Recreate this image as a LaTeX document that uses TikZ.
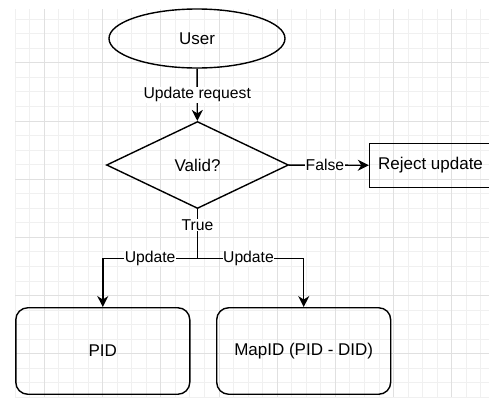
\documentclass[tikz,border=0pt]{standalone}
\usepackage{fontspec}
\setmainfont{Liberation Sans}
\usepackage{tikz}
\usetikzlibrary{shapes,shapes.geometric,arrows.meta,positioning,calc}

\begin{document}
\begin{tikzpicture}[x=1pt,y=-1pt,
    minorline/.style={draw=black!6, line width=0.8pt},
    majorline/.style={draw=black!12, line width=0.8pt},
    shapetext/.style={font=\fontsize{17}{20}\selectfont, draw, line width=1.4pt, inner sep=0pt},
    startnode/.style={shapetext, ellipse, minimum width=176pt, minimum height=59pt},
    decision/.style={shapetext, diamond, minimum width=182pt, minimum height=87pt},
    plainbox/.style={shapetext, rectangle, minimum width=122pt, minimum height=44pt},
    roundbox/.style={shapetext, rectangle, rounded corners=12pt, minimum width=174pt, minimum height=86.5pt},
    flow/.style={line width=1.4pt, -{Stealth[length=11pt,width=11pt,inset=3.5pt]}},
    edgelabel/.style={fill=white, inner sep=0.5pt, font=\fontsize{15.7}{18}\selectfont}]
    \useasboundingbox (0,0) rectangle (489,397);

    % Grid
    \begin{scope}
        \clip (15,9) rectangle (489,397);
        \foreach \k in {0,...,32} \draw[minorline] ({15.2+14.55*\k},9) -- ++(0,388);
        \foreach \k in {0,...,27} \draw[minorline] (15,{4.5+14.55*\k}) -- ++(474,0);
        \foreach \k in {0,...,7} \draw[majorline] ({44.3+58.2*\k},9) -- ++(0,388);
        \foreach \k in {0,...,5} \draw[majorline] (15,{62.7+58.2*\k}) -- ++(474,0);
    \end{scope}

    % Nodes
    \node[startnode] (user) at (197,38.5) {User};
    \node[decision] (valid) at (197.5,165) {Valid?};
    \node[plainbox] (reject) at (430.5,165.3) {Reject update};
    \node[roundbox] (pid) at (102.8,351) {PID};
    \node[roundbox] (mapid) at (303.7,351) {MapID (PID - DID)};
    \coordinate (split) at (197.5,258.3); % True branch splits here

    % Connectors
    \draw[flow] (user) -- node[edgelabel]{Update request} (valid);
    \draw[flow] (valid) -- node[edgelabel, pos=0.45]{False} (reject);
    \draw[line width=1.4pt] (valid) -- node[edgelabel, pos=0.33]{True} (split);
    \draw[flow] (split) -| node[edgelabel, pos=0.25]{Update} (pid);
    \draw[flow] (split) -| node[edgelabel, pos=0.24]{Update} (mapid);
\end{tikzpicture}
\end{document}
